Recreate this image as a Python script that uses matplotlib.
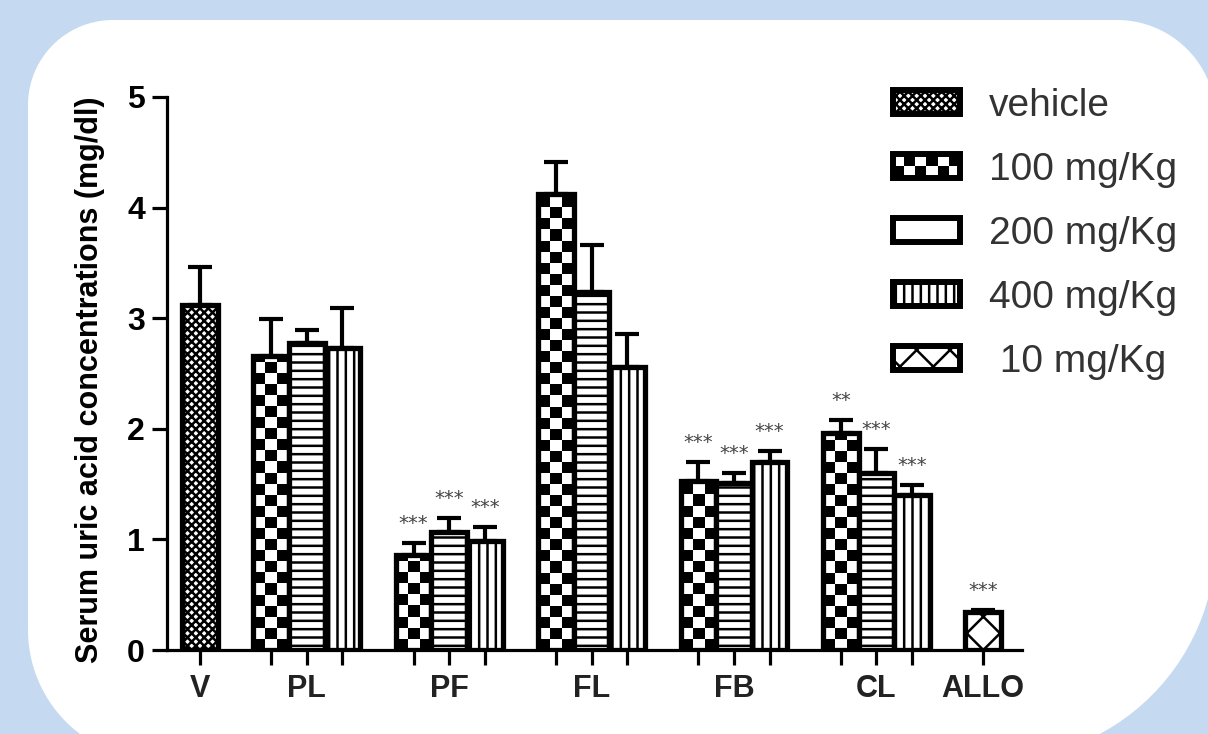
import numpy as np
import matplotlib
matplotlib.use("Agg")
import matplotlib.pyplot as plt
import matplotlib.patches as mpatches
from matplotlib.legend_handler import HandlerBase

plt.rcParams["font.family"] = ["Liberation Sans", "DejaVu Sans"]
plt.rcParams["hatch.linewidth"] = 1.8

# ── data ────────────────────────────────────────────────────────────────
GROUPS = ["V", "PL", "PF", "FL", "FB", "CL", "ALLO"]
DOSE_GROUPS = ["PL", "PF", "FL", "FB", "CL"]
SERIES = ["vehicle", "100 mg/Kg", "200 mg/Kg", "400 mg/Kg", " 10 mg/Kg"]

VEHICLE_MEAN = [3.12]
VEHICLE_SEM = [0.34]

DOSE_100_MEAN = [2.66, 0.86, 4.12, 1.53, 1.96]
DOSE_100_SEM = [0.33, 0.11, 0.29, 0.17, 0.12]
DOSE_200_MEAN = [2.78, 1.07, 3.24, 1.51, 1.60]
DOSE_200_SEM = [0.11, 0.12, 0.42, 0.09, 0.22]
DOSE_400_MEAN = [2.73, 0.99, 2.56, 1.70, 1.40]
DOSE_400_SEM = [0.36, 0.12, 0.30, 0.10, 0.09]

ALLO_MEAN = [0.34]
ALLO_SEM = [0.02]

STARS_100 = ["", "***", "", "***", "**"]
STARS_200 = ["", "***", "", "***", "***"]
STARS_400 = ["", "***", "", "***", "***"]
STARS_ALLO = ["***"]

# ── figure + rounded white panel on light blue ─────────────────────────
W, H = 1208, 734
fig = plt.figure(figsize=(W / 100, H / 100), dpi=100)
fig.patch.set_facecolor("#c5d9f0")

bg = fig.add_axes([0, 0, 1, 1])
bg.set_xlim(0, W); bg.set_ylim(H, 0); bg.axis("off")


def corner(cx, cy, r, a0, a1):
    t = np.radians(np.linspace(a0, a1, 30))
    return np.column_stack([cx + r * np.cos(t), cy + r * np.sin(t)])


L, T, R, B = 28, 20, 1216, 760
pts = np.vstack([
    corner(L + 85, T + 85, 85, 180, 270),
    corner(R - 99, T + 99, 99, 270, 360),
    corner(R - 220, B - 220, 220, 0, 90),
    corner(L + 130, B - 130, 130, 90, 180),
])
bg.add_patch(mpatches.Polygon(pts, closed=True, facecolor="white", edgecolor="none"))

# ── main axes ───────────────────────────────────────────────────────────
x0_px, unit_px = 200, 35.6
ax_l, ax_r, ax_b, ax_t = 167, 1022, 650, 97
ax = fig.add_axes([ax_l / W, (H - ax_b) / H, (ax_r - ax_l) / W, (ax_b - ax_t) / H])
ax.patch.set_alpha(0)

pos_v = np.array([0.0])
pos_100 = np.array([2 + 4 * g for g in range(len(DOSE_GROUPS))], dtype=float)
pos_200 = pos_100 + 1
pos_400 = pos_100 + 2
pos_allo = np.array([22.0])

EDGE_LW = 3.8

ax.bar(pos_v, VEHICLE_MEAN, 1.0, facecolor="white", edgecolor="black",
       linewidth=EDGE_LW, hatch="xxxx", zorder=3)
b100 = ax.bar(pos_100, DOSE_100_MEAN, 1.0, facecolor="none", edgecolor="black",
              linewidth=EDGE_LW, zorder=3)
ax.bar(pos_200, DOSE_200_MEAN, 1.0, facecolor="white", edgecolor="black",
       linewidth=EDGE_LW, hatch="--", zorder=3)
ax.bar(pos_400, DOSE_400_MEAN, 1.0, facecolor="white", edgecolor="black",
       linewidth=EDGE_LW, hatch="||", zorder=3)
ax.bar(pos_allo, ALLO_MEAN, 1.0, facecolor="white", edgecolor="black",
       linewidth=EDGE_LW, hatch="x", zorder=3)

# checkerboard fill for the 100 mg/Kg bars
cell_h = 0.1
for rect in b100:
    bx, bw, bh = rect.get_x(), rect.get_width(), rect.get_height()
    n = int(np.ceil(bh / cell_h))
    board = (np.add.outer(np.arange(n), np.arange(3)) % 2).astype(float)
    im = ax.imshow(board, cmap="gray", extent=(bx, bx + bw, 0, n * cell_h),
                   origin="lower", interpolation="nearest", aspect="auto", zorder=2)
    im.set_clip_path(rect)

# error bars (upper only)
for pos, mean, sem in [(pos_v, VEHICLE_MEAN, VEHICLE_SEM),
                       (pos_100, DOSE_100_MEAN, DOSE_100_SEM),
                       (pos_200, DOSE_200_MEAN, DOSE_200_SEM),
                       (pos_400, DOSE_400_MEAN, DOSE_400_SEM),
                       (pos_allo, ALLO_MEAN, ALLO_SEM)]:
    ax.errorbar(pos, mean, yerr=[np.zeros(len(sem)), sem], fmt="none",
                ecolor="black", elinewidth=3, capsize=8.3, capthick=3, zorder=4)

# significance stars
for pos, mean, sem, stars in [(pos_100, DOSE_100_MEAN, DOSE_100_SEM, STARS_100),
                              (pos_200, DOSE_200_MEAN, DOSE_200_SEM, STARS_200),
                              (pos_400, DOSE_400_MEAN, DOSE_400_SEM, STARS_400),
                              (pos_allo, ALLO_MEAN, ALLO_SEM, STARS_ALLO)]:
    for p, m, s, st in zip(pos, mean, sem, stars):
        if st:
            ax.annotate(st, (p, m + s), xytext=(0, 14), textcoords="offset points",
                        ha="center", va="center", fontsize=14, color="#444444",
                        family="DejaVu Sans")

ax.set_xlim((ax_l - x0_px) / unit_px, (ax_r - x0_px) / unit_px)
ax.set_ylim(0, 5)

for side in ("top", "right"):
    ax.spines[side].set_visible(False)
for side in ("left", "bottom"):
    ax.spines[side].set_linewidth(2.3)

all_pos = np.concatenate([pos_v, pos_100, pos_200, pos_400, pos_allo])
ax.xaxis.remove_overlapping_locs = False
ax.set_xticks(np.sort(all_pos))
ax.set_xticklabels([])
ax.set_xticks([0, 3, 7, 11, 15, 19, 22], minor=True)
ax.set_xticklabels(GROUPS, minor=True)
ax.tick_params(axis="x", which="major", direction="out", length=11, width=2.3)
ax.tick_params(axis="x", which="minor", length=0, pad=17, labelsize=22)
for lab in ax.get_xticklabels(minor=True):
    lab.set_fontweight("bold")
    lab.set_color("#222222")

ax.set_yticks([0, 1, 2, 3, 4, 5])
ax.tick_params(axis="y", direction="out", length=11, width=2.3, pad=5, labelsize=23)
for lab in ax.get_yticklabels():
    lab.set_fontweight("bold")

fig.text(90 / W, 1 - 380 / H, "Serum uric acid concentrations (mg/dl)", rotation=90,
         ha="center", va="center", fontsize=22, fontweight="bold")


# ── legend ──────────────────────────────────────────────────────────────
class CheckerHandler(HandlerBase):
    def create_artists(self, legend, orig_handle, xdescent, ydescent, width, height,
                       fontsize, trans):
        arts = [mpatches.Rectangle((-xdescent, -ydescent), width, height,
                                   facecolor="white", edgecolor="none", transform=trans)]
        nx, ny = 6, 2
        cw, ch = width / nx, height / ny
        for i in range(nx):
            for j in range(ny):
                if (i + j) % 2 == 0:
                    arts.append(mpatches.Rectangle((-xdescent + i * cw, -ydescent + j * ch),
                                                   cw, ch, facecolor="black",
                                                   edgecolor="none", transform=trans))
        arts.append(mpatches.Rectangle((-xdescent, -ydescent), width, height,
                                       facecolor="none", edgecolor="black",
                                       linewidth=4.3, transform=trans))
        return arts


h_veh = mpatches.Patch(facecolor="white", edgecolor="black", linewidth=4.3, hatch="xxxx")
h_100 = mpatches.Patch(facecolor="white", edgecolor="black", linewidth=4.3)
h_200 = mpatches.Patch(facecolor="white", edgecolor="black", linewidth=4.3)
h_400 = mpatches.Patch(facecolor="white", edgecolor="black", linewidth=4.3, hatch="||")
h_10 = mpatches.Patch(facecolor="white", edgecolor="black", linewidth=4.3, hatch="x")

leg = fig.legend([h_veh, h_100, h_200, h_400, h_10], SERIES,
                 handler_map={h_100: CheckerHandler()},
                 loc="upper left", bbox_to_anchor=(893 / W, 1 - 88 / H),
                 frameon=False, fontsize=28, handlelength=1.72, handleheight=0.57,
                 handletextpad=0.75, labelspacing=0.72, borderpad=0, borderaxespad=0)
for t in leg.get_texts():
    t.set_color("#333333")

fig.savefig("out.png", dpi=100, facecolor=fig.get_facecolor())
